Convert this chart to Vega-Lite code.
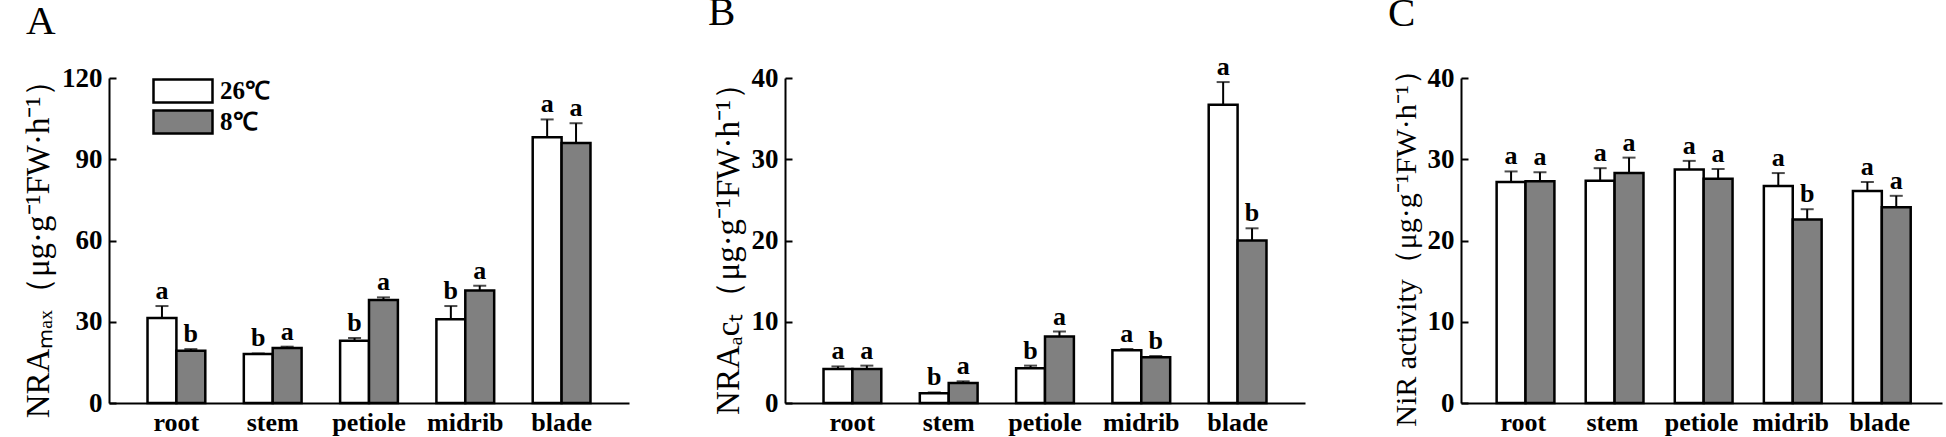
{
  "$schema": "https://vega.github.io/schema/vega-lite/v6.json",
  "background": "white",
  "padding": {"left": 22, "top": -8, "right": 3, "bottom": 3},
  "spacing": 156,
  "bounds": "flush",
  "datasets": {
    "A": [
      {"organ": "root", "temp": "26℃", "value": 31.4, "upper": 35.8, "letter": "a"},
      {"organ": "root", "temp": "8℃", "value": 19.3, "upper": 19.9, "letter": "b"},
      {"organ": "stem", "temp": "26℃", "value": 18.1, "upper": 18.3, "letter": "b"},
      {"organ": "stem", "temp": "8℃", "value": 20.3, "upper": 20.8, "letter": "a"},
      {"organ": "petiole", "temp": "26℃", "value": 23.0, "upper": 24.0, "letter": "b"},
      {"organ": "petiole", "temp": "8℃", "value": 38.0, "upper": 39.0, "letter": "a"},
      {"organ": "midrib", "temp": "26℃", "value": 30.9, "upper": 35.8, "letter": "b"},
      {"organ": "midrib", "temp": "8℃", "value": 41.5, "upper": 43.3, "letter": "a"},
      {"organ": "blade", "temp": "26℃", "value": 98.1, "upper": 104.7, "letter": "a"},
      {"organ": "blade", "temp": "8℃", "value": 96.0, "upper": 103.3, "letter": "a"}
    ],
    "B": [
      {"organ": "root", "temp": "26℃", "value": 4.18, "upper": 4.5, "letter": "a"},
      {"organ": "root", "temp": "8℃", "value": 4.18, "upper": 4.6, "letter": "a"},
      {"organ": "stem", "temp": "26℃", "value": 1.19, "upper": 1.3, "letter": "b"},
      {"organ": "stem", "temp": "8℃", "value": 2.46, "upper": 2.67, "letter": "a"},
      {"organ": "petiole", "temp": "26℃", "value": 4.27, "upper": 4.6, "letter": "b"},
      {"organ": "petiole", "temp": "8℃", "value": 8.2, "upper": 8.8, "letter": "a"},
      {"organ": "midrib", "temp": "26℃", "value": 6.48, "upper": 6.65, "letter": "a"},
      {"organ": "midrib", "temp": "8℃", "value": 5.62, "upper": 5.78, "letter": "b"},
      {"organ": "blade", "temp": "26℃", "value": 36.7, "upper": 39.5, "letter": "a"},
      {"organ": "blade", "temp": "8℃", "value": 20.0, "upper": 21.5, "letter": "b"}
    ],
    "C": [
      {"organ": "root", "temp": "26℃", "value": 27.2, "upper": 28.5, "letter": "a"},
      {"organ": "root", "temp": "8℃", "value": 27.3, "upper": 28.4, "letter": "a"},
      {"organ": "stem", "temp": "26℃", "value": 27.35, "upper": 28.9, "letter": "a"},
      {"organ": "stem", "temp": "8℃", "value": 28.3, "upper": 30.2, "letter": "a"},
      {"organ": "petiole", "temp": "26℃", "value": 28.75, "upper": 29.8, "letter": "a"},
      {"organ": "petiole", "temp": "8℃", "value": 27.6, "upper": 28.8, "letter": "a"},
      {"organ": "midrib", "temp": "26℃", "value": 26.7, "upper": 28.3, "letter": "a"},
      {"organ": "midrib", "temp": "8℃", "value": 22.6, "upper": 23.85, "letter": "b"},
      {"organ": "blade", "temp": "26℃", "value": 26.1, "upper": 27.2, "letter": "a"},
      {"organ": "blade", "temp": "8℃", "value": 24.1, "upper": 25.5, "letter": "a"}
    ]
  },
  "resolve": {"scale": {"color": "independent", "y": "independent"}, "legend": {"color": "independent"}},
  "hconcat": [
    {
      "width": 520, "height": 325,
      "title": {"text": "A", "anchor": "start", "frame": "group", "dx": -83, "offset": 20},
      "data": {"name": "A"},
      "encoding": {
        "x": {"field": "organ", "type": "nominal", "sort": ["root", "stem", "petiole", "midrib", "blade"], "scale": {"paddingInner": 0.4, "paddingOuter": 0.4}, "axis": {"title": null}},
        "xOffset": {"field": "temp", "type": "nominal", "sort": ["26℃", "8℃"]}
      },
      "layer": [
        {
          "mark": {"type": "bar", "stroke": "black", "strokeWidth": 2.5},
          "encoding": {
            "y": {"field": "value", "type": "quantitative", "scale": {"domain": [0, 120]}, "title": "NRAₘₐₓ（μg·g⁻¹FW·h⁻¹）", "axis": {"values": [0, 30, 60, 90, 120]}},
            "color": {"field": "temp", "type": "nominal", "sort": ["26℃", "8℃"], "scale": {"domain": ["26℃", "8℃"], "range": ["#ffffff", "#808080"]},
              "legend": {"orient": "none", "legendX": 61, "legendY": 0, "title": null, "symbolType": "M-2.565,-1H2.565V1H-2.565Z", "symbolSize": 529, "symbolStrokeColor": "black", "symbolStrokeWidth": 2.5, "labelFont": "Liberation Serif", "labelFontWeight": "bold", "labelFontSize": 25, "labelColor": "black", "labelOffset": 24, "rowPadding": -3, "padding": 0}}
          }
        },
        {
          "mark": {"type": "rule", "strokeWidth": 2, "color": "black"},
          "encoding": {"y": {"field": "value", "type": "quantitative", "title": "NRAₘₐₓ（μg·g⁻¹FW·h⁻¹）"}, "y2": {"field": "upper"}}
        },
        {
          "mark": {"type": "tick", "orient": "horizontal", "size": 13, "thickness": 2, "color": "black"},
          "encoding": {"y": {"field": "upper", "type": "quantitative", "title": "NRAₘₐₓ（μg·g⁻¹FW·h⁻¹）"}}
        },
        {
          "mark": {"type": "text", "dy": -7, "baseline": "alphabetic", "font": "Liberation Serif", "fontWeight": "bold", "fontSize": 26, "color": "black"},
          "encoding": {"y": {"field": "upper", "type": "quantitative", "title": "NRAₘₐₓ（μg·g⁻¹FW·h⁻¹）"}, "text": {"field": "letter"}}
        }
      ]
    },
    {
      "width": 520, "height": 325,
      "title": {"text": "B", "anchor": "start", "frame": "group", "dx": -77, "offset": 20},
      "data": {"name": "B"},
      "encoding": {
        "x": {"field": "organ", "type": "nominal", "sort": ["root", "stem", "petiole", "midrib", "blade"], "scale": {"paddingInner": 0.4, "paddingOuter": 0.4}, "axis": {"title": null}},
        "xOffset": {"field": "temp", "type": "nominal", "sort": ["26℃", "8℃"]}
      },
      "layer": [
        {
          "mark": {"type": "bar", "stroke": "black", "strokeWidth": 2.5},
          "encoding": {
            "y": {"field": "value", "type": "quantitative", "scale": {"domain": [0, 40]}, "title": "NRAₐcₜ（μg·g⁻¹FW·h⁻¹）", "axis": {"values": [0, 10, 20, 30, 40]}},
            "color": {"field": "temp", "type": "nominal", "sort": ["26℃", "8℃"], "scale": {"domain": ["26℃", "8℃"], "range": ["#ffffff", "#808080"]}, "legend": null}
          }
        },
        {
          "mark": {"type": "rule", "strokeWidth": 2, "color": "black"},
          "encoding": {"y": {"field": "value", "type": "quantitative", "title": "NRAₐcₜ（μg·g⁻¹FW·h⁻¹）"}, "y2": {"field": "upper"}}
        },
        {
          "mark": {"type": "tick", "orient": "horizontal", "size": 13, "thickness": 2, "color": "black"},
          "encoding": {"y": {"field": "upper", "type": "quantitative", "title": "NRAₐcₜ（μg·g⁻¹FW·h⁻¹）"}}
        },
        {
          "mark": {"type": "text", "dy": -7, "baseline": "alphabetic", "font": "Liberation Serif", "fontWeight": "bold", "fontSize": 26, "color": "black"},
          "encoding": {"y": {"field": "upper", "type": "quantitative", "title": "NRAₐcₜ（μg·g⁻¹FW·h⁻¹）"}, "text": {"field": "letter"}}
        }
      ]
    },
    {
      "width": 481, "height": 325,
      "title": {"text": "C", "anchor": "start", "frame": "group", "dx": -73, "offset": 20},
      "data": {"name": "C"},
      "encoding": {
        "x": {"field": "organ", "type": "nominal", "sort": ["root", "stem", "petiole", "midrib", "blade"], "scale": {"paddingInner": 0.4, "paddingOuter": 0.4}, "axis": {"title": null}},
        "xOffset": {"field": "temp", "type": "nominal", "sort": ["26℃", "8℃"]}
      },
      "layer": [
        {
          "mark": {"type": "bar", "stroke": "black", "strokeWidth": 2.5},
          "encoding": {
            "y": {"field": "value", "type": "quantitative", "scale": {"domain": [0, 40]}, "title": "NiR activity（μg·g⁻¹FW·h⁻¹）", "axis": {"values": [0, 10, 20, 30, 40], "titleFontSize": 30}},
            "color": {"field": "temp", "type": "nominal", "sort": ["26℃", "8℃"], "scale": {"domain": ["26℃", "8℃"], "range": ["#ffffff", "#808080"]}, "legend": null}
          }
        },
        {
          "mark": {"type": "rule", "strokeWidth": 2, "color": "black"},
          "encoding": {"y": {"field": "value", "type": "quantitative", "title": "NiR activity（μg·g⁻¹FW·h⁻¹）"}, "y2": {"field": "upper"}}
        },
        {
          "mark": {"type": "tick", "orient": "horizontal", "size": 13, "thickness": 2, "color": "black"},
          "encoding": {"y": {"field": "upper", "type": "quantitative", "title": "NiR activity（μg·g⁻¹FW·h⁻¹）"}}
        },
        {
          "mark": {"type": "text", "dy": -7, "baseline": "alphabetic", "font": "Liberation Serif", "fontWeight": "bold", "fontSize": 26, "color": "black"},
          "encoding": {"y": {"field": "upper", "type": "quantitative", "title": "NiR activity（μg·g⁻¹FW·h⁻¹）"}, "text": {"field": "letter"}}
        }
      ]
    }
  ],
  "config": {
    "view": {"stroke": null},
    "font": "Liberation Serif",
    "title": {"font": "Liberation Serif", "fontSize": 41, "fontWeight": "normal", "color": "black"},
    "axis": {"grid": false, "domainColor": "black", "domainWidth": 2, "labelColor": "black", "titleColor": "black"},
    "axisX": {"ticks": false, "labelAngle": 0, "labelFont": "Liberation Serif", "labelFontWeight": "bold", "labelFontSize": 26, "labelPadding": 6},
    "axisY": {"tickColor": "black", "tickWidth": 2, "tickSize": -7, "labelPadding": 14, "labelFont": "Liberation Serif", "labelFontWeight": "bold", "labelFontSize": 27, "titleFont": "Liberation Serif", "titleFontWeight": "normal", "titleFontSize": 33, "titlePadding": 6}
  }
}
